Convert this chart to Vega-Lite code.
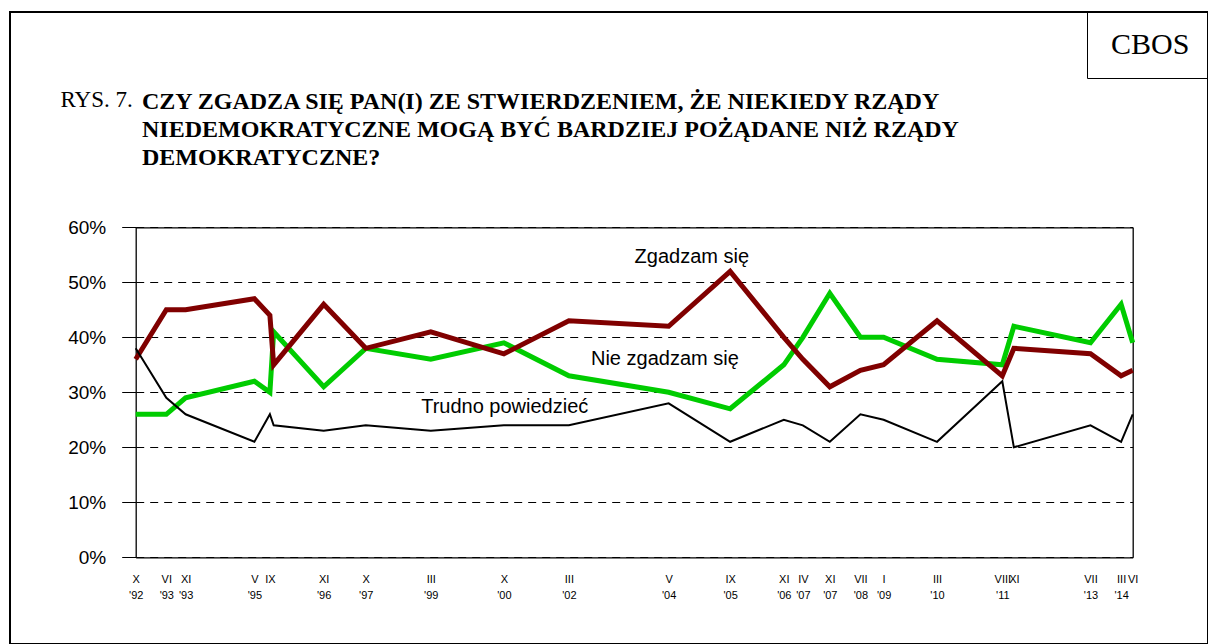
{
  "$schema": "https://vega.github.io/schema/vega-lite/v6.json",
  "width": 1198,
  "height": 632,
  "autosize": "none",
  "padding": {"left": 10, "top": 12, "right": 0, "bottom": 0},
  "background": "white",
  "config": {"font": "Liberation Sans", "view": {"stroke": "black", "strokeWidth": 2}},
  "title": {
    "text": ["CZY ZGADZA SIĘ PAN(I) ZE STWIERDZENIEM, ŻE NIEKIEDY RZĄDY", "NIEDEMOKRATYCZNE MOGĄ BYĆ BARDZIEJ POŻĄDANE NIŻ RZĄDY", "DEMOKRATYCZNE?"],
    "anchor": "start",
    "frame": "group",
    "dx": 132,
    "dy": 83,
    "offset": -75,
    "baseline": "top",
    "font": "Liberation Serif",
    "fontWeight": "bold",
    "fontSize": 24,
    "lineHeight": 28,
    "color": "black"
  },
  "datasets": {
    "survey": [
      {"date": "1992-10-01T00:00:00", "zgadzam": 36, "nie": 26, "trudno": 38},
      {"date": "1993-06-01T00:00:00", "zgadzam": 45, "nie": 26, "trudno": 29},
      {"date": "1993-11-01T00:00:00", "zgadzam": 45, "nie": 29, "trudno": 26},
      {"date": "1995-05-01T00:00:00", "zgadzam": 47, "nie": 32, "trudno": 21},
      {"date": "1995-09-01T00:00:00", "zgadzam": 44, "nie": 30, "trudno": 26},
      {"date": "1995-10-01T00:00:00", "zgadzam": 35, "nie": 41, "trudno": 24},
      {"date": "1996-11-01T00:00:00", "zgadzam": 46, "nie": 31, "trudno": 23},
      {"date": "1997-10-01T00:00:00", "zgadzam": 38, "nie": 38, "trudno": 24},
      {"date": "1999-03-01T00:00:00", "zgadzam": 41, "nie": 36, "trudno": 23},
      {"date": "2000-10-01T00:00:00", "zgadzam": 37, "nie": 39, "trudno": 24},
      {"date": "2002-03-01T00:00:00", "zgadzam": 43, "nie": 33, "trudno": 24},
      {"date": "2004-05-01T00:00:00", "zgadzam": 42, "nie": 30, "trudno": 28},
      {"date": "2005-09-01T00:00:00", "zgadzam": 52, "nie": 27, "trudno": 21},
      {"date": "2006-11-01T00:00:00", "zgadzam": 40, "nie": 35, "trudno": 25},
      {"date": "2007-04-01T00:00:00", "zgadzam": 36, "nie": 40, "trudno": 24},
      {"date": "2007-11-01T00:00:00", "zgadzam": 31, "nie": 48, "trudno": 21},
      {"date": "2008-07-01T00:00:00", "zgadzam": 34, "nie": 40, "trudno": 26},
      {"date": "2009-01-01T00:00:00", "zgadzam": 35, "nie": 40, "trudno": 25},
      {"date": "2010-03-01T00:00:00", "zgadzam": 43, "nie": 36, "trudno": 21},
      {"date": "2011-08-01T00:00:00", "zgadzam": 33, "nie": 35, "trudno": 32},
      {"date": "2011-11-01T00:00:00", "zgadzam": 38, "nie": 42, "trudno": 20},
      {"date": "2013-07-01T00:00:00", "zgadzam": 37, "nie": 39, "trudno": 24},
      {"date": "2014-03-01T00:00:00", "zgadzam": 33, "nie": 46, "trudno": 21},
      {"date": "2014-06-01T00:00:00", "zgadzam": 34, "nie": 39, "trudno": 26}
    ],
    "labels": [
      {"date": "2004-11-01T00:00:00", "value": 53.6, "label": "Zgadzam się"},
      {"date": "2004-04-01T00:00:00", "value": 35.0, "label": "Nie zgadzam się"},
      {"date": "2000-10-08T00:00:00", "value": 26.2, "label": "Trudno powiedzieć"}
    ],
    "src": [{"source": "CBOS"}]
  },
  "layer": [
    {
      "data": {"name": "survey"},
      "mark": {"type": "line", "color": "#00CC00", "strokeWidth": 5},
      "encoding": {
        "x": {
          "field": "date", "type": "temporal",
          "scale": {"domain": [{"year": 1992, "month": 10, "date": 1}, {"year": 2014, "month": 6, "date": 1}], "range": [125.7, 1122.7], "nice": false},
          "axis": {
            "orient": "bottom", "offset": -86.7, "title": null,
            "values": [
              {"year": 1992, "month": 10, "date": 1}, {"year": 1993, "month": 6, "date": 1}, {"year": 1993, "month": 11, "date": 1},
              {"year": 1995, "month": 5, "date": 1}, {"year": 1995, "month": 9, "date": 1}, {"year": 1996, "month": 11, "date": 1},
              {"year": 1997, "month": 10, "date": 1}, {"year": 1999, "month": 3, "date": 1}, {"year": 2000, "month": 10, "date": 1},
              {"year": 2002, "month": 3, "date": 1}, {"year": 2004, "month": 5, "date": 1}, {"year": 2005, "month": 9, "date": 1},
              {"year": 2006, "month": 11, "date": 1}, {"year": 2007, "month": 4, "date": 1}, {"year": 2007, "month": 11, "date": 1},
              {"year": 2008, "month": 7, "date": 1}, {"year": 2009, "month": 1, "date": 1}, {"year": 2010, "month": 3, "date": 1},
              {"year": 2011, "month": 8, "date": 1}, {"year": 2011, "month": 11, "date": 1}, {"year": 2013, "month": 7, "date": 1},
              {"year": 2014, "month": 3, "date": 1}, {"year": 2014, "month": 6, "date": 1}
            ],
            "labelExpr": "[['I','II','III','IV','V','VI','VII','VIII','IX','X','XI','XII'][month(datum.value)], indexof(['1995-09','2011-11','2014-06'], timeFormat(datum.value, '%Y-%m')) >= 0 ? '' : \"'\" + timeFormat(datum.value, '%y')]",
            "ticks": false, "grid": false,
            "domainColor": "black", "domainWidth": 1.3,
            "labelFont": "Liberation Sans", "labelFontSize": 11, "labelLineHeight": 16,
            "labelColor": "black", "labelPadding": 16, "labelBaseline": "top",
            "labelOverlap": false, "labelBound": false, "labelFlush": false
          }
        },
        "y": {
          "field": "nie", "type": "quantitative",
          "scale": {"domain": [0, 60], "range": [545.3, 215.3], "nice": false, "zero": false},
          "axis": {
            "orient": "left", "offset": -125.7, "title": null,
            "values": [0, 10, 20, 30, 40, 50, 60],
            "labelExpr": "datum.value + '%'",
            "tickSize": 14, "tickColor": "black", "tickWidth": 1,
            "domainColor": "black", "domainWidth": 1.3,
            "grid": true, "gridColor": "black", "gridDash": [8, 6], "gridWidth": 1,
            "labelFont": "Liberation Sans", "labelFontSize": 19, "labelColor": "black", "labelPadding": 16
          }
        }
      }
    },
    {
      "data": {"name": "survey"},
      "mark": {"type": "line", "color": "#800000", "strokeWidth": 5},
      "encoding": {
        "x": {
          "field": "date", "type": "temporal",
          "axis": {
            "orient": "top", "offset": -215.3,
            "labels": false, "ticks": false, "grid": false,
            "domainColor": "black", "domainWidth": 1.3,
            "title": "RYS. 7.", "titleX": 50, "titleY": -121, "titleAlign": "left", "titleBaseline": "alphabetic",
            "titleFont": "Liberation Serif", "titleFontWeight": "normal", "titleFontSize": 23, "titleColor": "black"
          }
        },
        "y": {
          "field": "zgadzam", "type": "quantitative",
          "axis": {
            "orient": "right", "offset": -75.3, "title": null,
            "labels": false, "ticks": false, "grid": false,
            "domainColor": "black", "domainWidth": 1.3
          }
        }
      }
    },
    {
      "data": {"name": "survey"},
      "mark": {"type": "line", "color": "black", "strokeWidth": 2},
      "encoding": {
        "x": {"field": "date", "type": "temporal", "axis": null},
        "y": {"field": "trudno", "type": "quantitative", "axis": null}
      }
    },
    {
      "data": {"name": "labels"},
      "mark": {"type": "text", "font": "Liberation Sans", "fontSize": 20, "align": "center", "baseline": "alphabetic", "color": "black"},
      "encoding": {
        "x": {"field": "date", "type": "temporal", "axis": null},
        "y": {"field": "value", "type": "quantitative", "axis": null},
        "text": {"field": "label"}
      }
    },
    {
      "data": {"name": "src"},
      "mark": {"type": "point", "opacity": 0},
      "encoding": {
        "shape": {
          "field": "source", "type": "nominal",
          "legend": {
            "title": null, "orient": "top-right", "offset": 0, "padding": 18,
            "strokeColor": "black",
            "labelFont": "Liberation Serif", "labelFontSize": 30, "labelColor": "black",
            "symbolSize": 0, "symbolOpacity": 0, "symbolStrokeWidth": 0, "labelOffset": -24
          }
        }
      }
    }
  ],
  "resolve": {"axis": {"x": "independent", "y": "independent"}}
}
